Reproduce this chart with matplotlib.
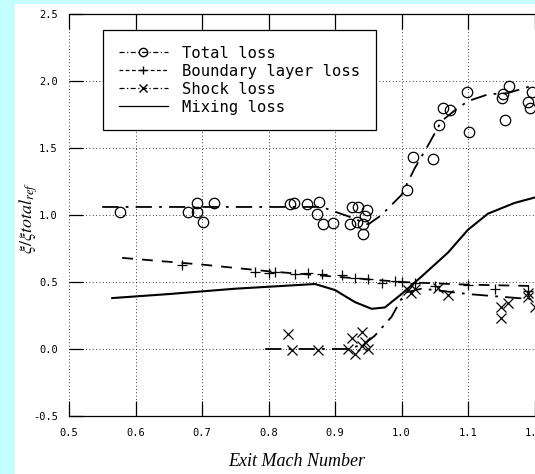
import matplotlib.pyplot as plt
import numpy as np

# Total loss: measured points and fitted curve
total_x = [0.577, 0.679, 0.692, 0.692, 0.701, 0.718, 0.832, 0.838, 0.858, 0.876, 0.873,
           0.882, 0.897, 0.926, 0.935, 0.948, 0.945, 0.923, 0.933, 0.942, 0.942,
           1.008, 1.017, 1.047, 1.056, 1.062, 1.073, 1.098, 1.102, 1.151, 1.153,
           1.162, 1.156, 1.190, 1.193, 1.196]
total_y = [1.02, 1.02, 1.02, 1.09, 0.95, 1.09, 1.08, 1.09, 1.08, 1.10, 1.01,
           0.93, 0.94, 1.06, 1.06, 1.04, 0.99, 0.93, 0.95, 0.93, 0.86,
           1.19, 1.43, 1.42, 1.67, 1.80, 1.78, 1.92, 1.62, 1.87, 1.90,
           1.96, 1.71, 1.84, 1.80, 1.92]
total_cx = [0.55, 0.70, 0.88, 0.92, 0.95, 0.97, 1.00, 1.02, 1.04, 1.06, 1.08, 1.10, 1.13, 1.16, 1.20]
total_cy = [1.06, 1.06, 1.06, 0.99, 0.93, 1.00, 1.15, 1.35, 1.52, 1.70, 1.78, 1.85, 1.90, 1.91, 1.97]

# Boundary layer loss
bl_x = [0.67, 0.78, 0.80, 0.81, 0.84, 0.86, 0.88, 0.91, 0.93, 0.95, 0.97, 0.99, 1.00,
        1.02, 1.05, 1.10, 1.14, 1.19]
bl_y = [0.63, 0.575, 0.57, 0.575, 0.56, 0.57, 0.56, 0.55, 0.53, 0.52, 0.49, 0.51, 0.50,
        0.49, 0.47, 0.48, 0.45, 0.43]
bl_cx = [0.58, 0.70, 0.80, 0.90, 1.00, 1.10, 1.20]
bl_cy = [0.68, 0.63, 0.58, 0.54, 0.50, 0.48, 0.47]

# Shock loss
sh_x = [0.83, 0.835, 0.875, 0.925, 0.92, 0.93, 0.94, 0.945, 0.95, 0.94,
        1.01, 1.015, 1.02, 1.055, 1.07, 1.15, 1.16, 1.15, 1.19, 1.19, 1.20]
sh_y = [0.11, -0.01, -0.01, 0.08, 0.0, -0.04, 0.13, 0.05, 0.0, 0.02,
        0.44, 0.42, 0.45, 0.455, 0.40, 0.31, 0.34, 0.23, 0.42, 0.39, 0.31]
sh_cx = [0.795, 0.92, 0.945, 0.96, 0.985, 1.005, 1.03, 1.05, 1.10, 1.15, 1.20]
sh_cy = [0.0, 0.0, 0.04, 0.10, 0.24, 0.42, 0.45, 0.44, 0.41, 0.39, 0.37]

# Mixing loss
mix_x = [0.565, 0.65, 0.75, 0.87, 0.90, 0.93, 0.955, 0.975, 1.0, 1.03, 1.07, 1.10, 1.13, 1.17, 1.20]
mix_y = [0.38, 0.41, 0.45, 0.485, 0.44, 0.35, 0.30, 0.31, 0.41, 0.54, 0.72, 0.89, 1.01, 1.09, 1.13]

xticks = [0.5, 0.6, 0.7, 0.8, 0.9, 1.0, 1.1, 1.2]
yticks = [-0.5, 0.0, 0.5, 1.0, 1.5, 2.0, 2.5]

plt.rcParams['mathtext.fontset'] = 'stix'

fig = plt.figure(figsize=(5.35, 4.74), dpi=100, facecolor='#c4ffff')
bg = plt.Rectangle((15 / 535, 0), 1, 1 - 4 / 474, transform=fig.transFigure,
                   facecolor='white', edgecolor='none', zorder=-10)
fig.patches.append(bg)
ax = fig.add_axes([69 / 535, 58 / 474, 532 / 535, 402 / 474])
ax.set_zorder(1)
ax.set_facecolor('none')

ax.plot(total_cx, total_cy, color='black', lw=1.3, ls=(0, (9, 4, 1.5, 4)))
ax.plot(total_x, total_y, ls='none', marker='o', ms=7.5, mfc='none', mec='black', mew=0.9)
ax.plot(bl_cx, bl_cy, color='black', lw=1.3, ls=(0, (6, 5)))
ax.plot(bl_x, bl_y, ls='none', marker='+', ms=7, mec='black', mew=0.9)
ax.plot(sh_cx, sh_cy, color='black', lw=1.3, ls=(0, (9, 4, 1.5, 4)))
ax.plot(sh_x, sh_y, ls='none', marker='x', ms=7, mec='black', mew=0.9)
ax.plot(mix_x, mix_y, color='black', lw=1.5)

# legend proxies
h1, = ax.plot([], [], color='black', lw=0.9, ls=(0, (4, 2, 1, 2)), marker='o', ms=6, mfc='none')
h2, = ax.plot([], [], color='black', lw=0.9, ls=(0, (3, 2)), marker='+', ms=6)
h3, = ax.plot([], [], color='black', lw=0.9, ls=(0, (4, 2, 1, 2)), marker='x', ms=6)
h4, = ax.plot([], [], color='black', lw=0.9)
leg = ax.legend([h1, h2, h3, h4], ['Total loss', 'Boundary layer loss', 'Shock loss', 'Mixing loss'],
                loc='upper left', bbox_to_anchor=(103 / 535, 1 - 30 / 474),
                bbox_transform=fig.transFigure,
                prop={'family': 'DejaVu Sans Mono', 'size': 11.2},
                frameon=True, fancybox=False, framealpha=1, edgecolor='black',
                handlelength=3.2, handletextpad=0.9, labelspacing=0.2,
                borderpad=1.0, borderaxespad=0)
leg.get_frame().set_linewidth(0.9)

ax.set_xlim(0.5, 1.3)
ax.set_ylim(-0.5, 2.5)
ax.set_xticks(xticks)
ax.set_yticks(yticks)
ax.set_xticklabels(['%.1f' % t for t in xticks], family='DejaVu Sans Mono', fontsize=7.5)
ax.set_yticklabels(['%.1f' % t for t in yticks], family='DejaVu Sans Mono', fontsize=7.5)
ax.tick_params(axis='x', direction='in', length=11, width=0.9, top=True, pad=9)
ax.tick_params(axis='y', direction='in', length=10, width=0.9, pad=8)
ax.grid(True, ls=(0, (1, 3)), color='black', lw=0.6)
ax.spines['left'].set_visible(False)
ax.spines['right'].set_visible(False)
ax.spines['top'].set_linewidth(0.9)
ax.spines['bottom'].set_linewidth(0.9)

fig.text(297 / 535, 1 - 462 / 474, 'Exit Mach Number', ha='center', va='center',
         family='Liberation Serif', style='italic', fontsize=13)
fig.text(29 / 535, 1 - 218 / 474, r'$\xi/\xi total_{ref}$', ha='center', va='center',
         rotation=90, fontsize=13)

fig.savefig('out.png', dpi=100, facecolor=fig.get_facecolor())
